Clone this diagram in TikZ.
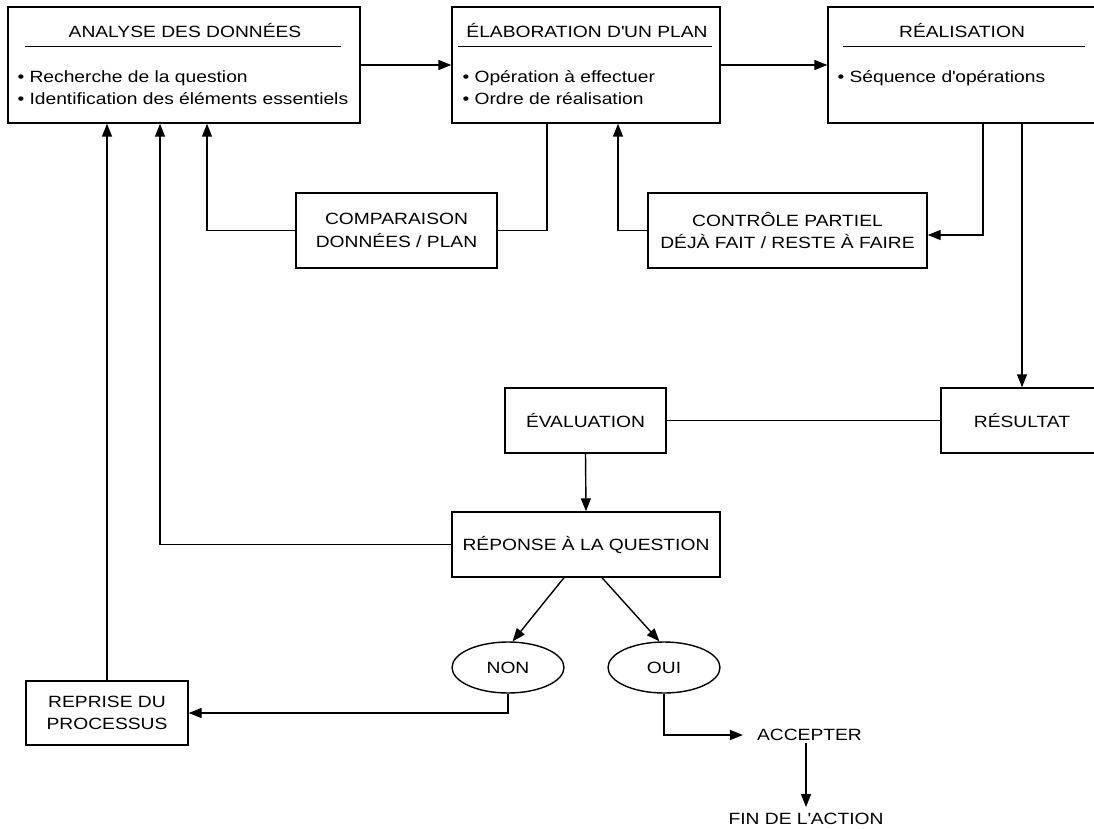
\documentclass[tikz,border=0pt]{standalone}
\usepackage{fontspec}
\setmainfont{Liberation Sans}[FakeStretch=1.18]
\usetikzlibrary{arrows.meta,shapes.geometric,calc}
\newcommand{\apo}{\textquotesingle}
\begin{document}
\begin{tikzpicture}[x=1pt,y=-1pt,
  every node/.style={font=\fontsize{16.3}{22.5}\selectfont},
  box/.style={draw, line width=1.4pt, inner sep=0pt, align=center, fill=white},
  oval/.style={draw, ellipse, line width=1.4pt, inner sep=0pt},
  plain/.style={inner sep=0pt},
  titlerule/.style={line width=1.2pt},
  link/.style={line width=1.4pt},
  arr/.style={line width=1.4pt, -{Triangle[length=13pt,width=10pt]}}]
\useasboundingbox (0,0) rectangle (1094,829);
\clip (0,0) rectangle (1094,829);
\fill[white] (0,0) rectangle (1094,829);

% top boxes
\node[box, minimum width=352pt, minimum height=116pt] (A) at (184,65) {};
\node[box, minimum width=268pt, minimum height=116pt] (B) at (586,65) {};
\node[box, minimum width=272pt, minimum height=116pt] (C) at (964,65) {};

\node[plain, anchor=base] (At) at ($(A.north)+(1,31)$) {ANALYSE DES DONNÉES};
\draw[titlerule] ($(A.north west)+(18,40)$) -- ($(A.north east)+(-20,40)$);
\node[plain, anchor=base west] (Ab1) at ($(A.north west)+(10,76)$) {• Recherche de la question};
\node[plain, anchor=base west] (Ab2) at ($(A.north west)+(10,98)$) {• Identification des éléments essentiels};

\node[plain, anchor=base] (Bt) at ($(B.north)+(1,31)$) {ÉLABORATION D\apo UN PLAN};
\draw[titlerule] ($(B.north west)+(7,40)$) -- ($(B.north east)+(-9,40)$);
\node[plain, anchor=base west] (Bb1) at ($(B.north west)+(11,76)$) {• Opération à effectuer};
\node[plain, anchor=base west] (Bb2) at ($(B.north west)+(11,98)$) {• Ordre de réalisation};

\node[plain, anchor=base] (Ct) at ($(C.north)+(-2,31)$) {RÉALISATION};
\draw[titlerule] ($(C.north west)+(16,40)$) -- ($(C.north east)+(-16,40)$);
\node[plain, anchor=base west] (Cb1) at ($(C.north west)+(10,76)$) {• Séquence d\apo opérations};

% middle boxes
\node[box, minimum width=201pt, minimum height=75pt] (Comp) at (396.5,230.5) {COMPARAISON\\DONNÉES / PLAN};
\node[box, minimum width=279pt, minimum height=75pt] (Ctrl) at (787.5,230.5) {CONTRÔLE PARTIEL\\DÉJÀ FAIT / RESTE À FAIRE};

\node[box, minimum width=161pt, minimum height=65pt] (Eval) at (585.5,420.5) {ÉVALUATION};
\node[box, minimum width=162pt, minimum height=65pt] (Res) at (1022,420.5) {RÉSULTAT};
\node[box, minimum width=268pt, minimum height=65pt] (Rep) at (586,544.5) {RÉPONSE À LA QUESTION};

\node[oval, minimum width=112pt, minimum height=51pt] (Non) at (508,667.5) {NON};
\node[oval, minimum width=112pt, minimum height=51pt] (Oui) at (664,667.5) {OUI};

\node[box, minimum width=162pt, minimum height=64pt] (Repr) at (107,713) {REPRISE DU\\PROCESSUS};

\node[inner xsep=14pt, inner ysep=2pt] (Acc) at (809.5,735) {ACCEPTER};
\node[inner xsep=0pt, inner ysep=6pt] (Fin) at (806,819) {FIN DE L\apo ACTION};

% connectors
\draw[arr] (A.east) -- (B.west);
\draw[arr] (B.east) -- (C.west);
\draw[link] ($(B.south)+(-39,0)$) |- (Comp.east);
\draw[arr] (Comp.west) -| ($(A.south)+(23,0)$);
\draw[arr] ($(C.south)+(19,0)$) |- ($(Ctrl.east)+(0,4.5)$);
\draw[arr] (Ctrl.west) -| ($(B.south)+(32,0)$);
\draw[arr] (Res.north |- C.south) -- (Res.north);
\draw[link] (Eval.east) -- (Res.west);
\draw[arr] (Eval.south) -- (Rep.north);
\draw[arr] (Rep.west) -| ($(A.south)+(-24,0)$);
\draw[arr] ($(Rep.south)+(-22,0)$) -- (Non.80);
\draw[arr] ($(Rep.south)+(16,0)$) -- (Oui.100);
\draw[arr] (Non.south) |- (Repr.east);
\draw[arr] (Repr.north) -- (Repr.north |- A.south);
\draw[arr] (Oui.south) |- (Acc.west);
\draw[arr] (Acc.south -| Fin.north) -- (Fin.north);
\end{tikzpicture}
\end{document}
